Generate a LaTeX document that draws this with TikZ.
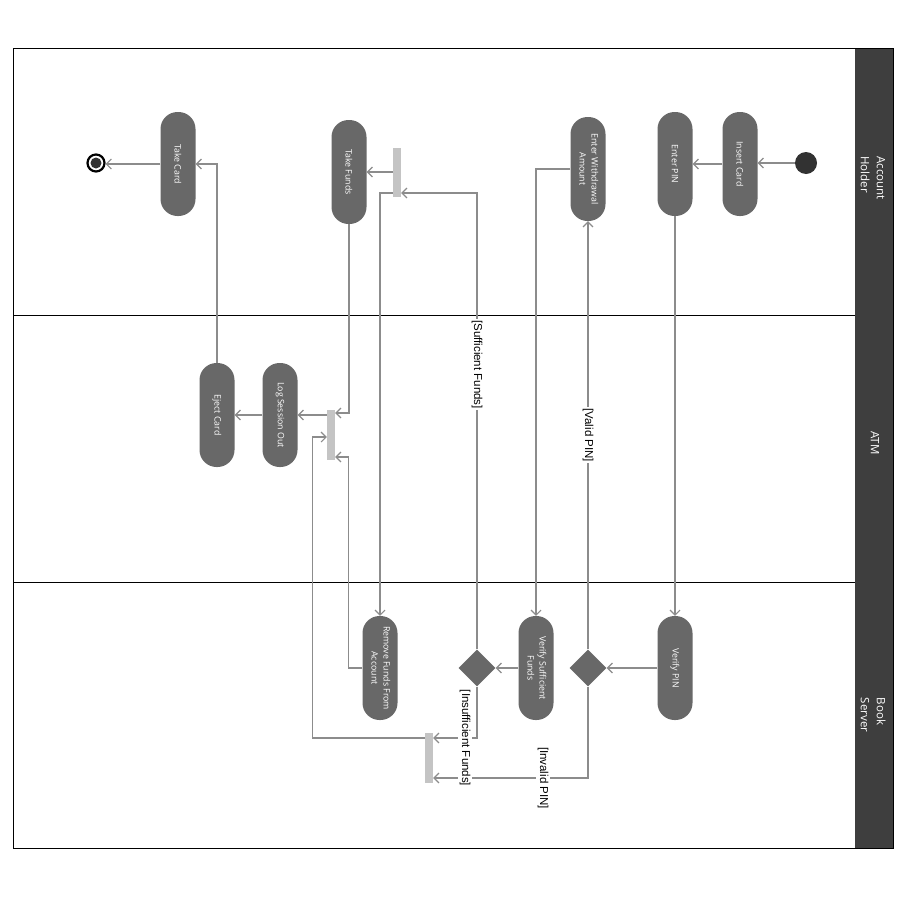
\documentclass[tikz,border=0pt]{standalone}
\usepackage{graphicx}
\usepackage{fontspec}
\setmainfont{Open Sans}
\newfontfamily\labelfont{Liberation Sans}
\usetikzlibrary{arrows.meta,calc,shapes.geometric}
\definecolor{nodeg}{RGB}{104,104,104}
\definecolor{headg}{RGB}{62,62,62}
\definecolor{lineg}{RGB}{140,140,140}
\definecolor{barg}{RGB}{196,196,196}
\definecolor{darkc}{RGB}{50,50,50}
\begin{document}
\begin{tikzpicture}[x=1pt,y=-1pt,
  act/.style={draw=none,fill=nodeg,rounded corners=17pt,minimum width=35pt,minimum height=104pt,inner sep=0pt,text=white,font=\fontsize{8.8}{12}\selectfont},
  forkbar/.style={draw=none,fill=barg,minimum width=8pt,minimum height=50pt,inner sep=0pt},
  decision/.style={diamond,draw=none,fill=nodeg,minimum width=37pt,minimum height=37pt,inner sep=0pt},
  conn/.style={draw=lineg,line width=1.1pt,-{Straight Barb[length=5pt,width=10pt]}},
  plain/.style={draw=lineg,line width=1.1pt},
  lab/.style={fill=white,inner sep=1.5pt,rotate=-90,font=\labelfont\fontsize{11.5}{13}\selectfont},
  lane/.style={text=white,font=\fontsize{11.5}{16}\selectfont}]
\useasboundingbox (0,0) rectangle (900,900);
\fill[white] (0,0) rectangle (900,900);
% frame and lanes
\fill[headg] (855,48) rectangle (893,848);
\draw[black,line width=0.8pt] (13,48) rectangle (893,848);
\draw[black,line width=0.8pt] (13,315) -- (855,315);
\draw[black,line width=0.8pt] (13,582) -- (855,582);
\node[lane] (hAH) at (872,178) {\rotatebox{-90}{\begin{tabular}{@{}l@{}}Account\\Holder\end{tabular}}};
\node[lane] (hATM) at (875,443) {\rotatebox{-90}{ATM}};
\node[lane] (hBS) at (872,715) {\rotatebox{-90}{\begin{tabular}{@{}l@{}}Book\\Server\end{tabular}}};
% nodes
\node[circle,fill=darkc,minimum size=22pt,inner sep=0pt] (start) at (806,163) {};
\node[act] (insert) at (740,164) {\rotatebox{-90}{Insert Card}};
\node[act] (enterpin) at (675,164) {\rotatebox{-90}{Enter PIN}};
\node[act] (ewa) at (588,169) {\rotatebox{-90}{\begin{tabular}{@{}c@{}}Enter Withdrawal\\Amount\end{tabular}}};
\node[forkbar,minimum height=49pt] (bar1) at (397,172) {};
\node[act] (takefunds) at (349,172) {\rotatebox{-90}{Take Funds}};
\node[act] (takecard) at (178,164) {\rotatebox{-90}{Take Card}};
\node[circle,draw=black,line width=2.2pt,fill=white,minimum size=17pt,inner sep=0pt] (endn) at (96,163) {};
\fill[darkc] (endn.center) circle (5.5pt);
\node[act] (lso) at (280,415) {\rotatebox{-90}{Log Session Out}};
\node[act] (eject) at (217,415) {\rotatebox{-90}{Eject Card}};
\node[forkbar] (bar2) at (331,435) {};
\node[act] (verifypin) at (675,668) {\rotatebox{-90}{Verify PIN}};
\node[decision] (d1) at (588,668) {};
\node[act] (vsf) at (536,668) {\rotatebox{-90}{\begin{tabular}{@{}c@{}}Verify Sufficient\\Funds\end{tabular}}};
\node[decision] (d2) at (477,668) {};
\node[act] (rffa) at (380,668) {\rotatebox{-90}{\begin{tabular}{@{}c@{}}Remove Funds From\\Account\end{tabular}}};
\node[forkbar] (bar3) at (429,758) {};
% connectors
\draw[conn] (start.west) -- (start.west -| insert.east);
\draw[conn] (insert.west) -- (enterpin.east);
\draw[conn] (enterpin.south) -- (verifypin.north);
\draw[conn] (verifypin.west) -- (d1.east);
\draw[conn] (d1.north) -- node[lab,pos=0.5] {[Valid PIN]} (ewa.south);
\draw[conn] (d1.south) |- node[lab,pos=0.645] {[Invalid PIN]} ($(bar3.east)+(0,20)$);
\draw[conn] (ewa.west) -| (vsf.north);
\draw[conn] (vsf.west) -- (d2.east);
\draw[conn] (d2.north) |- node[lab,pos=0.312] {[Sufficient Funds]} ($(bar1.east)+(0,21)$);
\draw[conn] (d2.south) |- node[lab,pos=0.636] {[Insufficient Funds]} ($(bar3.east)+(0,-20)$);
\draw[conn] (bar1.west) -- (takefunds.east);
\draw[conn] ($(bar1.west)+(0,21)$) -| (rffa.north);
\draw[conn] (takefunds.south) |- ($(bar2.east)+(0,-22)$);
\draw[conn] (rffa.west) -- ++(-14,0) |- ($(bar2.east)+(0,22)$);
\draw[conn] ($(bar3.west)+(0,-20)$) -- ++(-112,0) |- ($(bar2.west)+(0,2)$);
\draw[conn] ($(bar2.west)+(0,-20)$) -- (lso.east);
\draw[conn] (lso.west) -- (eject.east);
\draw[conn] (eject.north) |- (takecard.east);
\draw[conn] (takecard.west) -- (takecard.west -| endn.east);
\end{tikzpicture}
\end{document}
